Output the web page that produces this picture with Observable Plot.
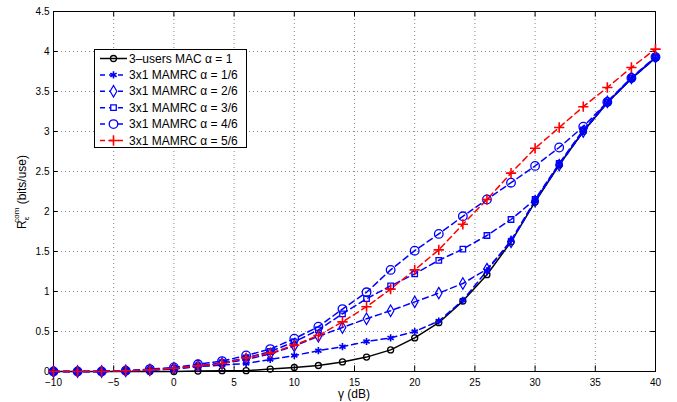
<!DOCTYPE html>
<html>
<head>
<meta charset="utf-8">
<script src="https://cdn.jsdelivr.net/npm/d3@7"></script>
<script src="https://cdn.jsdelivr.net/npm/@observablehq/plot@0.6"></script>
<style>
body { margin: 0; background: #fff; }
#chart { width: 677px; height: 402px; }
svg { font-family: "Liberation Sans", Arial, sans-serif; }
</style>
</head>
<body>
<div id="chart"></div>
<script>
const gamma = [-10,-8,-6,-4,-2,0,2,4,6,8,10,12,14,16,18,20,22,24,26,28,30,32,34,36,38,40];
const mac   = [0,0,0,0,0,0,0.005,0.01,0.01,0.03,0.05,0.075,0.12,0.18,0.27,0.42,0.61,0.88,1.21,1.62,2.12,2.58,3.0,3.36,3.66,3.92];
const a16   = [0,0,0,0.005,0.015,0.03,0.06,0.08,0.1,0.15,0.2,0.26,0.31,0.375,0.42,0.5,0.63,0.89,1.26,1.64,2.14,2.59,3.0,3.36,3.66,3.92];
const a26   = [0,0,0,0.01,0.02,0.04,0.07,0.1,0.15,0.22,0.32,0.44,0.55,0.66,0.76,0.87,0.98,1.1,1.28,1.62,2.13,2.58,3.0,3.37,3.67,3.93];
const a36   = [0,0,0,0.01,0.02,0.04,0.07,0.11,0.17,0.25,0.37,0.52,0.72,0.91,1.07,1.22,1.39,1.53,1.7,1.9,2.15,2.6,3.02,3.37,3.67,3.93];
const a46   = [0,0,0,0.01,0.03,0.05,0.09,0.13,0.2,0.28,0.41,0.56,0.78,0.99,1.27,1.51,1.72,1.94,2.15,2.36,2.57,2.8,3.06,3.37,3.67,3.93];
const a56   = [0,0,0,0.01,0.02,0.04,0.07,0.1,0.17,0.23,0.33,0.45,0.62,0.81,1.03,1.27,1.52,1.84,2.15,2.48,2.79,3.05,3.31,3.55,3.8,4.03];
const seriesLabels = ["3\u2013users MAC \u03b1 = 1","3x1 MAMRC \u03b1 = 1/6","3x1 MAMRC \u03b1 = 2/6","3x1 MAMRC \u03b1 = 3/6","3x1 MAMRC \u03b1 = 4/6","3x1 MAMRC \u03b1 = 5/6"];
const xTicks = [-10,-5,0,5,10,15,20,25,30,35,40];
const yTicks = [0,0.5,1,1.5,2,2.5,3,3.5,4,4.5];

const styles = [
  {values: mac, color: "#000", dash: null, symbol: "circle", r: 3, sw: 1.3, d3s: d3.symbolCircle},
  {values: a16, color: "#0000ff", dash: "6,4", symbol: "asterisk", r: 3.4, sw: 1.6, d3s: d3.symbolAsterisk},
  {values: a26, color: "#0000ff", dash: "6,4", symbol: "diamond", r: 3.5, sw: 1.2, d3s: d3.symbolDiamond},
  {values: a36, color: "#0000ff", dash: "6,4", symbol: "square", r: 3.1, sw: 1.3, d3s: d3.symbolSquare},
  {values: a46, color: "#0000ff", dash: "6,4", symbol: "circle", r: 4.3, sw: 1.3, d3s: d3.symbolCircle},
  {values: a56, color: "#ff0000", dash: "6,4", symbol: "plus", r: 3.4, sw: 1.6, d3s: d3.symbolPlus}
];

const marks = [
  Plot.gridX(xTicks, {stroke: "#888", strokeOpacity: 1, strokeDasharray: "1,3"}),
  Plot.gridY(yTicks, {stroke: "#888", strokeOpacity: 1, strokeDasharray: "1,3"}),
  Plot.frame({stroke: "#000"}),
  Plot.ruleX(xTicks, {y1: 0, y2: 0.07, stroke: "#000"}),
  Plot.ruleX(xTicks, {y1: 4.5, y2: 4.43, stroke: "#000"}),
  Plot.ruleY(yTicks, {x1: -10, x2: -9.6, stroke: "#000"}),
  Plot.ruleY(yTicks, {x1: 40, x2: 39.6, stroke: "#000"}),
  Plot.axisX(xTicks, {tickSize: 0, tickPadding: 7, fontSize: 10, label: null}),
  Plot.axisY(yTicks, {tickSize: 0, tickPadding: 4, fontSize: 10, label: null, tickFormat: d => String(d)})
];
styles.forEach(s => {
  const data = gamma.map((g, i) => ({g, v: s.values[i]}));
  marks.push(Plot.line(data, {x: "g", y: "v", stroke: s.color, strokeWidth: 1.5, strokeDasharray: s.dash}));
});
styles.forEach(s => {
  const data = gamma.map((g, i) => ({g, v: s.values[i]}));
  marks.push(Plot.dot(data, {x: "g", y: "v", symbol: s.symbol, r: s.r, stroke: s.color, fill: s.symbol === "asterisk" ? s.color : "none", strokeWidth: s.sw}));
});

const chart = Plot.plot({
  width: 677, height: 402,
  marginLeft: 53, marginRight: 22, marginTop: 11, marginBottom: 31,
  style: {background: "#fff", fontFamily: "Liberation Sans, Arial, sans-serif"},
  x: {domain: [-10, 40]},
  y: {domain: [0, 4.5]},
  marks
});
document.getElementById("chart").appendChild(chart);

const svg = d3.select(chart);
// x label
svg.append("text").attr("x", 354).attr("y", 398).attr("text-anchor", "middle")
  .attr("font-size", 12).attr("fill", "#000").text("\u03b3 (dB)");
// y label
const yl = svg.append("text").attr("transform", "translate(26,192) rotate(-90)")
  .attr("text-anchor", "middle").attr("font-size", 12).attr("fill", "#000");
yl.append("tspan").text("R");
yl.append("tspan").attr("font-size", 8).attr("dy", 3).text("\u03b5");
yl.append("tspan").attr("font-size", 8).attr("dx", -6).attr("dy", -10).text("com");
yl.append("tspan").attr("dy", 7).text(" (bits/use)");

// legend
const lg = svg.append("g").attr("text-anchor", "start");
lg.append("rect").attr("x", 94.5).attr("y", 49.5).attr("width", 152).attr("height", 98)
  .attr("fill", "#fff").attr("stroke", "#000").attr("stroke-width", 1);
styles.forEach((s, i) => {
  const y = 58.5 + i * 16.4;
  lg.append("line").attr("x1", 100).attr("x2", 127).attr("y1", y).attr("y2", y)
    .attr("stroke", s.color).attr("stroke-width", 1.5).attr("stroke-dasharray", s.dash ? "5,4" : null);
  lg.append("path").attr("transform", `translate(113.5,${y})`)
    .attr("d", d3.symbol(s.d3s, Math.PI * s.r * s.r)())
    .attr("stroke", s.color).attr("stroke-width", s.sw)
    .attr("fill", s.symbol === "asterisk" ? s.color : (i === 0 ? "none" : "#fff"));
  lg.append("text").attr("x", 129).attr("y", y + 4).attr("text-anchor", "start")
    .attr("font-size", 12).attr("fill", "#000").text(seriesLabels[i]);
});
</script>
</body>
</html>
